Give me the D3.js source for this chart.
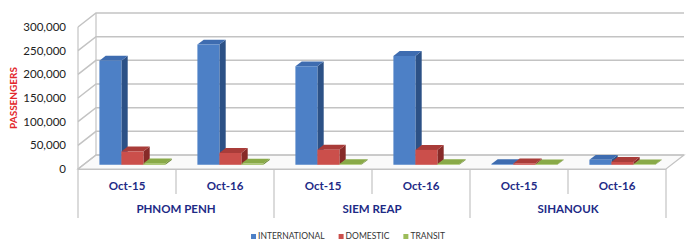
<!DOCTYPE html>
<html>
<head>
<meta charset="utf-8">
<script src="https://cdn.jsdelivr.net/npm/d3@7"></script>
<style>
  body { margin: 0; background: #fff; }
  svg { display: block; font-family: Lato, "Open Sans", sans-serif; }
</style>
</head>
<body>
<div id="chart"></div>
<script>
// Data
var months = ["Oct-15", "Oct-16", "Oct-15", "Oct-16", "Oct-15", "Oct-16"];
var airports = ["PHNOM PENH", "SIEM REAP", "SIHANOUK"];
var international = [220000, 254000, 208000, 230000, 1500, 10500];
var domestic = [28000, 25000, 32000, 31500, 3000, 6000];
var transit = [3000, 2500, 1500, 1500, 800, 1000];
var seriesNames = ["INTERNATIONAL", "DOMESTIC", "TRANSIT"];
var yTicks = [0, 50000, 100000, 150000, 200000, 250000, 300000];

var svgWidth = 696, svgHeight = 247;

// colours for front / top / side of each series
var colors = [
  { front: "#4d80c6", top: "#3e6cb0", side: "#2c5186" },
  { front: "#cb4f4b", top: "#a93c39", side: "#872a28" },
  { front: "#9cbc5a", top: "#89aa48", side: "#6a8734" }
];

// depth offset of the 3D box (back plane relative to front plane)
var DX = 18, DY = 14;

var svg = d3.select("#chart").append("svg")
  .attr("width", svgWidth)
  .attr("height", svgHeight);

var x = d3.scaleBand().domain(d3.range(months.length)).range([78, 666]);
var y = d3.scaleLinear().domain([0, 300000]).range([169, 27]);

// project a point at depth z (0 = front, 1 = back)
function P(px, py, z) {
  return [px + z * DX, py - z * DY];
}
function poly(pts) {
  return pts.map(function(p) { return p[0].toFixed(1) + "," + p[1].toFixed(1); }).join(" ");
}

var grid = "#c3c3c3";
var x0 = x.range()[0], x1 = x.range()[1];

// floor
svg.append("polygon")
  .attr("points", poly([P(x0, y(0), 0), P(x1, y(0), 0), P(x1, y(0), 1), P(x0, y(0), 1)]))
  .attr("fill", "#fafafa")
  .attr("stroke", grid)
  .attr("stroke-width", 1.2);

// back wall + left wall gridlines
yTicks.forEach(function(v) {
  var a = P(x0, y(v), 0), b = P(x0, y(v), 1), c = P(x1, y(v), 1);
  svg.append("polyline")
    .attr("points", poly([a, b, c]))
    .attr("fill", "none")
    .attr("stroke", grid)
    .attr("stroke-width", 1.5);
});
svg.append("line")
  .attr("x1", x0).attr("x2", x0).attr("y1", y(300000)).attr("y2", y(0))
  .attr("stroke", grid).attr("stroke-width", 1.2);
svg.append("line")
  .attr("x1", x0 + DX).attr("x2", x0 + DX).attr("y1", y(300000) - DY).attr("y2", y(0) - DY)
  .attr("stroke", grid).attr("stroke-width", 1.2);

// y tick labels
svg.append("g").selectAll("text")
  .data(yTicks)
  .enter()
  .append("text")
  .attr("x", 66)
  .attr("y", function(d) { return y(d) + 4; })
  .attr("text-anchor", "end")
  .attr("font-size", "11.5px")
  .attr("fill", "#222")
  .text(d3.format(","));

// y axis title
svg.append("text")
  .attr("transform", "translate(17, 98) rotate(-90)")
  .attr("text-anchor", "middle")
  .attr("font-size", "10px")
  .attr("font-weight", "bold")
  .attr("fill", "#e2262b")
  .text("PASSENGERS");

// bars
var series = [international, domestic, transit];
var bw = x.bandwidth() * 0.2245;
var groupStart = (x.bandwidth() - bw * 3) / 2;
var zf = 0.3, zb = 0.65;

var bars = [];
months.forEach(function(m, i) {
  series.forEach(function(s, k) {
    bars.push({ i: i, k: k, v: s[i] });
  });
});

var barG = svg.append("g");
bars.forEach(function(d) {
  var l = x(d.i) + groupStart + d.k * bw, r = l + bw;
  var yt = y(d.v), yb = y(0);
  var c = colors[d.k];
  var g = barG.append("g");
  // right side
  g.append("polygon")
    .attr("points", poly([P(r, yb, zf), P(r, yb, zb), P(r, yt, zb), P(r, yt, zf)]))
    .attr("fill", c.side);
  // top
  g.append("polygon")
    .attr("points", poly([P(l, yt, zf), P(r, yt, zf), P(r, yt, zb), P(l, yt, zb)]))
    .attr("fill", c.top);
  // front
  g.append("polygon")
    .attr("points", poly([P(l, yb, zf), P(r, yb, zf), P(r, yt, zf), P(l, yt, zf)]))
    .attr("fill", c.front);
});

// category axis
svg.append("line")
  .attr("x1", x0).attr("x2", x1).attr("y1", y(0) + 0.5).attr("y2", y(0) + 0.5)
  .attr("stroke", grid).attr("stroke-width", 1.2);

d3.range(months.length + 1).forEach(function(i) {
  var px = x0 + i * x.bandwidth();
  svg.append("line")
    .attr("x1", px).attr("x2", px)
    .attr("y1", y(0))
    .attr("y2", i % 2 === 0 ? 218 : 194)
    .attr("stroke", grid)
    .attr("stroke-width", 1.2);
});

svg.append("g").selectAll("text")
  .data(months)
  .enter()
  .append("text")
  .attr("x", function(d, i) { return x(i) + x.bandwidth() / 2; })
  .attr("y", 190)
  .attr("text-anchor", "middle")
  .attr("font-size", "11.5px")
  .attr("font-weight", "bold")
  .attr("fill", "#1d2a86")
  .text(function(d) { return d; });

svg.append("g").selectAll("text")
  .data(airports)
  .enter()
  .append("text")
  .attr("x", function(d, i) { return x(i * 2) + x.bandwidth(); })
  .attr("y", 213)
  .attr("text-anchor", "middle")
  .attr("font-size", "11.5px")
  .attr("font-weight", "bold")
  .attr("fill", "#1d2a86")
  .text(function(d) { return d; });

// legend
var legend = svg.append("g");
var lx = 0;
seriesNames.forEach(function(name, k) {
  var item = legend.append("g").attr("transform", "translate(" + lx + ",0)");
  item.append("rect")
    .attr("x", 0).attr("y", -5)
    .attr("width", 5).attr("height", 5)
    .attr("fill", colors[k].front);
  var t = item.append("text")
    .attr("x", 7).attr("y", 0)
    .attr("font-size", "8.5px")
    .attr("fill", "#333")
    .text(name);
  lx += 7 + t.node().getComputedTextLength() + 14;
});
var legendWidth = lx - 14;
legend.attr("transform", "translate(" + (348 - legendWidth / 2) + ",239)");
</script>
</body>
</html>
